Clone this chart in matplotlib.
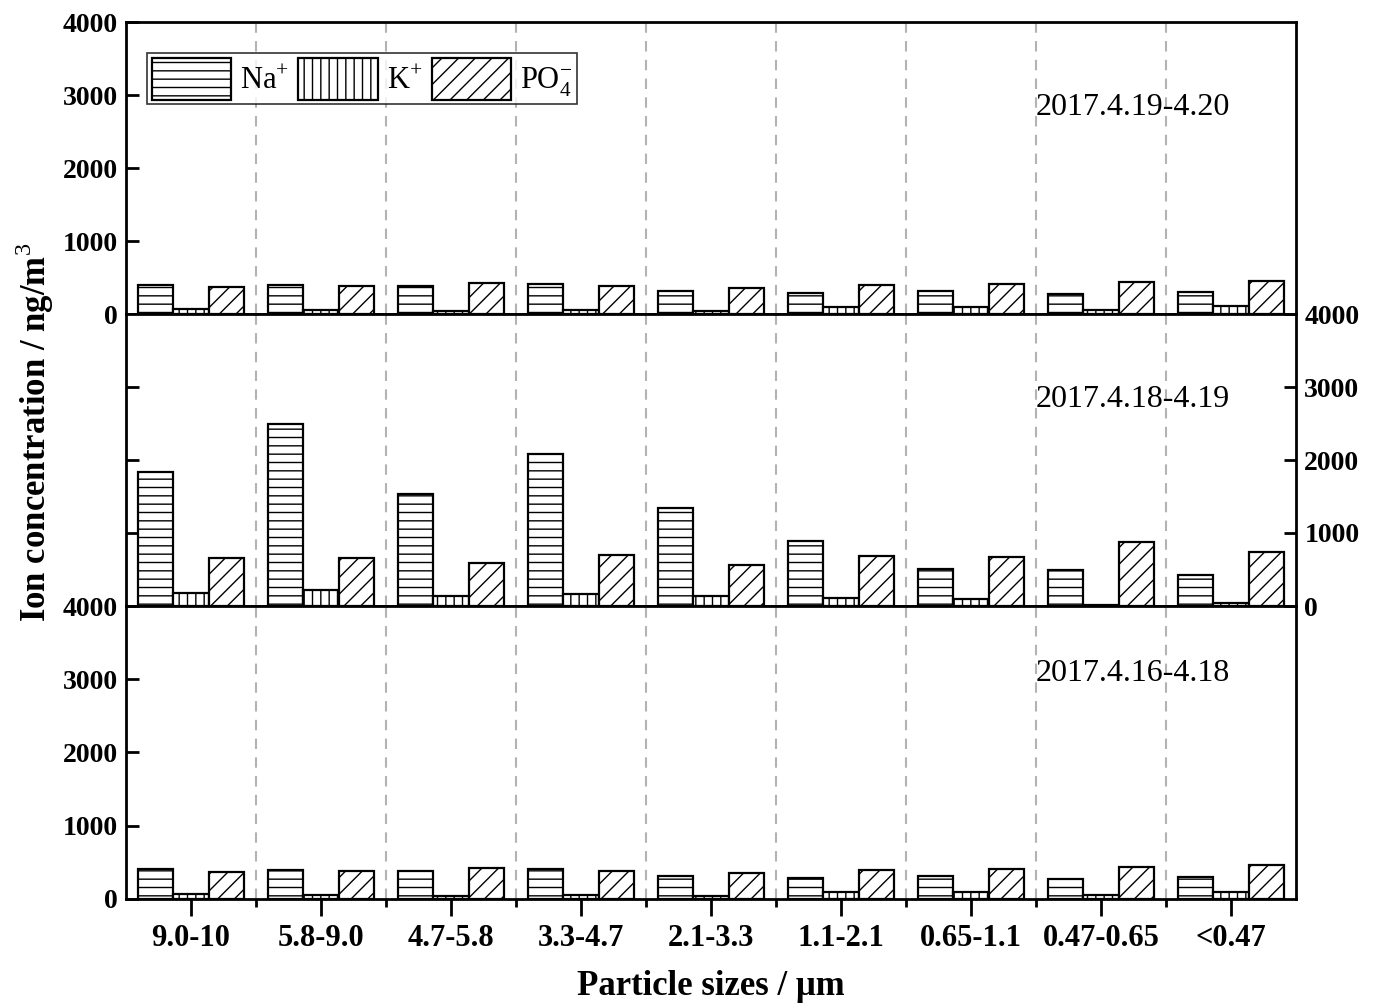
import numpy as np
import matplotlib
matplotlib.use("Agg")
import matplotlib.pyplot as plt

plt.rcParams['font.family'] = ['Liberation Serif', 'DejaVu Serif']
plt.rcParams['hatch.linewidth'] = 1.0
plt.rcParams['mathtext.fontset'] = 'custom'
plt.rcParams['mathtext.rm'] = 'Liberation Serif'
plt.rcParams['mathtext.bf'] = 'Liberation Serif:bold'

categories = ["9.0-10", "5.8-9.0", "4.7-5.8", "3.3-4.7", "2.1-3.3",
              "1.1-2.1", "0.65-1.1", "0.47-0.65", "<0.47"]
series_labels = ["Na$^{+}$", "K$^{+}$", "PO$_{4}^{-}$"]

# Panel 1 (top): 2017.4.19-4.20
na_0419 = [400, 400, 383, 410, 315, 290, 315, 270, 297]
k_0419 = [65, 60, 45, 50, 40, 95, 90, 50, 110]
po4_0419 = [375, 380, 420, 385, 355, 395, 410, 435, 455]

# Panel 2 (middle): 2017.4.18-4.19
na_0418 = [1830, 2492, 1531, 2087, 1342, 897, 506, 497, 428]
k_0418 = [183, 216, 133, 170, 133, 106, 101, 10, 41]
po4_0418 = [662, 657, 589, 703, 561, 685, 676, 878, 735]

# Panel 3 (bottom): 2017.4.16-4.18
na_0416 = [405, 400, 383, 410, 315, 290, 318, 273, 304]
k_0416 = [70, 60, 45, 50, 40, 95, 91, 60, 100]
po4_0416 = [372, 380, 420, 385, 355, 395, 409, 440, 464]

panel_titles = ["2017.4.19-4.20", "2017.4.18-4.19", "2017.4.16-4.18"]
yticks = [0, 1000, 2000, 3000, 4000]

fig = plt.figure(figsize=(13.74, 10.05), dpi=100)
L, R = 126 / 1374, 1296 / 1374
edges = [22, 314, 606, 899]
axes = []
for i in range(3):
    top = 1 - edges[i] / 1005
    bot = 1 - edges[i + 1] / 1005
    axes.append(fig.add_axes([L, bot, R - L, top - bot]))

data = [(na_0419, k_0419, po4_0419), (na_0418, k_0418, po4_0418), (na_0416, k_0416, po4_0416)]
hatches = ['--', '||', '//']
x = np.arange(len(categories))
w = 0.27
text_y = [2830, 2830, 3080]
YT = 20

for i, ax in enumerate(axes):
    for j, (vals, h) in enumerate(zip(data[i], hatches)):
        ax.bar(x + (j - 1) * w, vals, width=w, facecolor='white', edgecolor='black',
               hatch=h, linewidth=1.6, zorder=3, label=series_labels[j])
    ax.set_xlim(-0.5, len(categories) - 0.5)
    ax.set_ylim(0, 4000)
    for bnd in np.arange(0.5, len(categories) - 0.5, 1.0):
        ax.axvline(bnd, color='#b3b3b3', lw=1.5, linestyle=(0, (5, 4)), zorder=1)
    for s in ax.spines.values():
        s.set_linewidth(2)
    ax.set_xticks(x)
    ax.set_xticks(np.arange(0.5, len(categories) - 0.5, 1.0), minor=True)
    ax.tick_params(axis='x', which='major', direction='out', length=12, width=2, pad=6)
    ax.tick_params(axis='x', which='minor', direction='out', length=6, width=2)
    ax.set_yticks(yticks)
    ax.tick_params(axis='y', which='major', direction='in', length=9, width=2,
                   labelsize=YT, pad=6)
    for lab in ax.get_yticklabels():
        lab.set_fontweight('bold')
    if i < 2:
        ax.tick_params(axis='x', labelbottom=False)
    else:
        ax.set_xticklabels(categories, fontsize=22, fontweight='bold')
    if i == 1:
        ax.tick_params(axis='y', labelleft=False)
        axr = ax.twinx()
        axr.set_ylim(0, 4000)
        axr.set_yticks(yticks)
        axr.tick_params(axis='y', direction='in', length=9, width=2, labelsize=YT, pad=6)
        for lab in axr.get_yticklabels():
            lab.set_fontweight('bold')
        for s in axr.spines.values():
            s.set_visible(False)
        ax.set_yticks([1000, 2000, 3000])
    ax.text(6.5, text_y[i], panel_titles[i], fontsize=23, ha='left', va='center', zorder=4)
    if i == 0:
        leg = ax.legend(loc='upper left', bbox_to_anchor=(0.018, 0.894), ncol=3, fontsize=22,
                        frameon=True, fancybox=False,
                        handlelength=2.6, handleheight=1.75, columnspacing=0.3,
                        handletextpad=0.3, borderpad=0.15, borderaxespad=0.0)
        leg.get_frame().set_edgecolor('black')
        leg.get_frame().set_linewidth(1.2)

fig.text(0.025, 0.57, "Ion concentration / ng/m$^{3}$", rotation=90, fontsize=25,
         fontweight='bold', ha='center', va='center')
fig.text((L + R) / 2, 0.018, "Particle sizes / μm", fontsize=25, fontweight='bold',
         ha='center', va='center')

fig.savefig("out.png", dpi=100)
